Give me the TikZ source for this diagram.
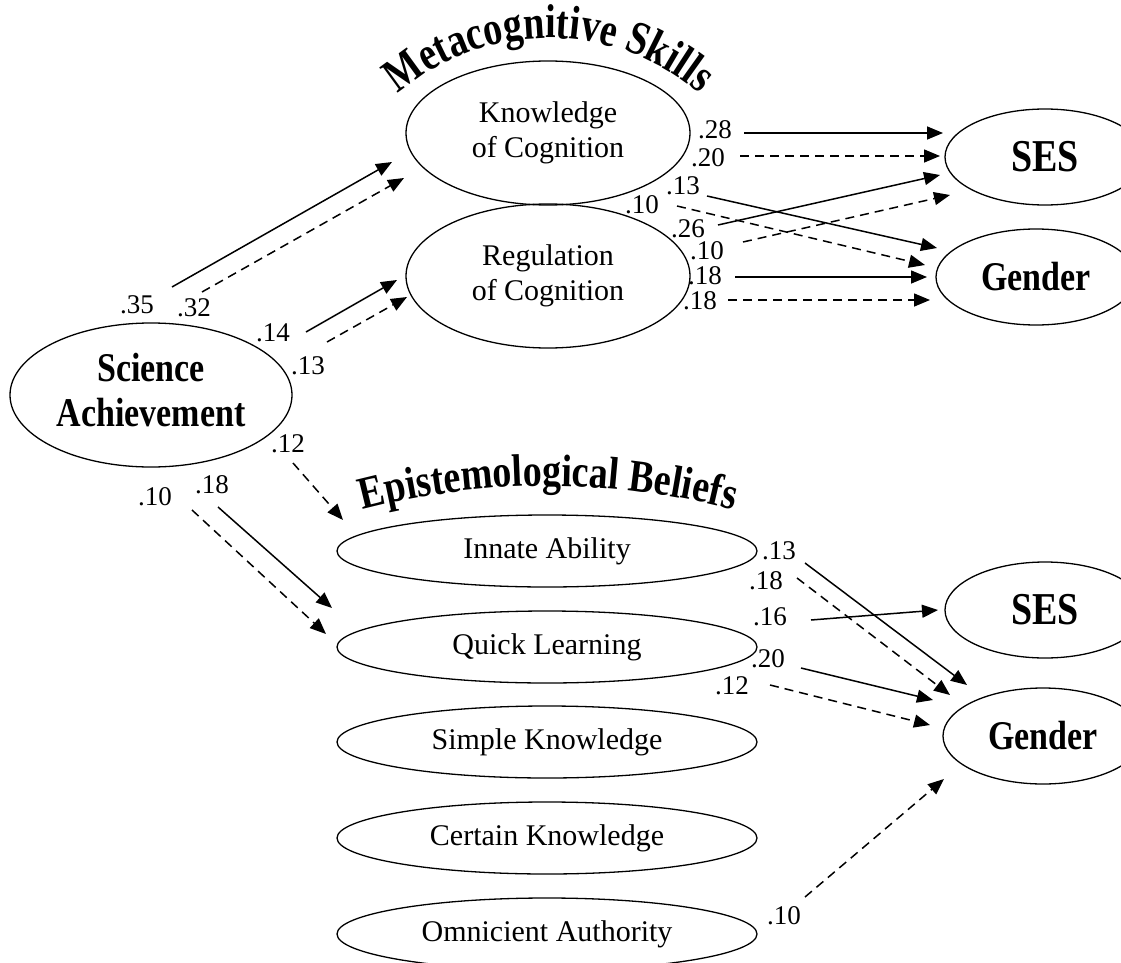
\documentclass[tikz,border=0pt]{standalone}
\usepackage{fontspec}
\usepackage{graphicx}
\setmainfont{Liberation Serif}
\usetikzlibrary{shapes.geometric,arrows.meta,decorations.text}
\newcommand{\tallb}[1]{\scalebox{1}[1.2]{#1}}
\begin{document}
\begin{tikzpicture}[x=1pt,y=1pt,
  ell/.style={ellipse,draw,line width=1.3pt,inner sep=0pt,align=center},
  conn/.style={line width=1.5pt,-{Triangle[length=16pt,width=13pt]}},
  dsh/.style={conn,dash pattern=on 9pt off 6pt},
  lab/.style={inner sep=0pt,font=\fontsize{27}{27}\selectfont},
  reg/.style={font=\fontsize{30}{35}\selectfont},
  bld/.style={font=\bfseries\fontsize{34}{37}\selectfont},
  big/.style={font=\bfseries\fontsize{38}{40}\selectfont}]
\useasboundingbox (0,0) rectangle (1121,-963);
\clip (0,0) rectangle (1121,-963);

% titles
\path[decorate,decoration={text along path,text align=center,transform={yscale=1.25},
  text={|\bfseries\fontsize{38}{40}\selectfont|Metacognitive Skills}}]
  (549,-270) ++(140:232) arc[start angle=140,end angle=40,radius=232];
\path[decorate,decoration={text along path,text align=center,transform={yscale=1.2},
  text={|\bfseries\fontsize{38}{40}\selectfont|Epistemological Beliefs}}]
  (548,-1219) ++(106:733) arc[start angle=106,end angle=74,radius=733];

% nodes
\node[ell,minimum width=284,minimum height=144,reg] (koc) at (548,-133) {Knowledge\\of Cognition};
\node[ell,minimum width=284,minimum height=144,reg] (roc) at (548,-276) {Regulation\\of Cognition};
\node[ell,minimum width=282,minimum height=144,bld] (sci) at (151,-395)
  {\tallb{\begin{tabular}{@{}c@{}}Science\\Achievement\end{tabular}}};
\node[ell,minimum width=200,minimum height=96,big] (ses1) at (1045,-157) {\tallb{SES}};
\node[ell,minimum width=200,minimum height=96,bld] (gen1) at (1036,-277) {\tallb{Gender}};
\node[ell,minimum width=200,minimum height=96,big] (ses2) at (1045,-610) {\tallb{SES}};
\node[ell,minimum width=200,minimum height=96,bld] (gen2) at (1043,-736) {\tallb{Gender}};
\node[ell,minimum width=420,minimum height=72,reg] (ia) at (547,-551) {Innate Ability};
\node[ell,minimum width=420,minimum height=72,reg] (ql) at (547,-647) {Quick Learning};
\node[ell,minimum width=420,minimum height=72,reg] (sk) at (547,-742) {Simple Knowledge};
\node[ell,minimum width=420,minimum height=72,reg] (ck) at (547,-838) {Certain Knowledge};
\node[ell,minimum width=420,minimum height=72,reg] (oa) at (547,-934) {Omnicient Authority};

% connector end points
\coordinate (a1s) at (172,-287); \coordinate (a1e) at (392,-162);
\coordinate (a2s) at (202,-292); \coordinate (a2e) at (404,-178);
\coordinate (a3s) at (306,-332); \coordinate (a3e) at (397,-280);
\coordinate (a4s) at (327,-342); \coordinate (a4e) at (407,-297);
\coordinate (a5s) at (293,-463); \coordinate (a5e) at (343,-520);
\coordinate (a6s) at (218,-507); \coordinate (a6e) at (332,-608);
\coordinate (a7s) at (192,-510); \coordinate (a7e) at (326,-634);
\coordinate (b1s) at (744,-133); \coordinate (b1e) at (943,-133);
\coordinate (b2s) at (740,-156); \coordinate (b2e) at (940,-156);
\coordinate (b3s) at (707,-196); \coordinate (b3e) at (937,-248);
\coordinate (b4s) at (677,-206); \coordinate (b4e) at (925,-265);
\coordinate (b5s) at (718,-225); \coordinate (b5e) at (940,-175);
\coordinate (b6s) at (743,-242); \coordinate (b6e) at (950,-195);
\coordinate (b7s) at (735,-277); \coordinate (b7e) at (927,-277);
\coordinate (b8s) at (728,-300); \coordinate (b8e) at (930,-300);
\coordinate (c1s) at (805,-563); \coordinate (c1e) at (967,-685);
\coordinate (c2s) at (797,-578); \coordinate (c2e) at (950,-695);
\coordinate (c3s) at (811,-620); \coordinate (c3e) at (938,-610);
\coordinate (c4s) at (801,-668); \coordinate (c4e) at (933,-700);
\coordinate (c5s) at (770,-685); \coordinate (c5e) at (930,-725);
\coordinate (c6s) at (805,-897); \coordinate (c6e) at (944,-779);

% connectors
\draw[conn] (a1s) -- (a1e);
\draw[dsh] (a2s) -- (a2e);
\draw[conn] (a3s) -- (a3e);
\draw[dsh] (a4s) -- (a4e);
\draw[dsh] (a5s) -- (a5e);
\draw[conn] (a6s) -- (a6e);
\draw[dsh] (a7s) -- (a7e);
\draw[conn] (b1s) -- (b1e);
\draw[dsh] (b2s) -- (b2e);
\draw[conn] (b3s) -- (b3e);
\draw[dsh] (b4s) -- (b4e);
\draw[conn] (b5s) -- (b5e);
\draw[dsh] (b6s) -- (b6e);
\draw[conn] (b7s) -- (b7e);
\draw[dsh] (b8s) -- (b8e);
\draw[conn] (c1s) -- (c1e);
\draw[dsh] (c2s) -- (c2e);
\draw[conn] (c3s) -- (c3e);
\draw[conn] (c4s) -- (c4e);
\draw[dsh] (c5s) -- (c5e);
\draw[dsh] (c6s) -- (c6e);

% labels
\node[lab] (l1) at (137,-305) {.35};
\node[lab] (l2) at (194,-308) {.32};
\node[lab] (l3) at (273,-333) {.14};
\node[lab] (l4) at (308,-366) {.13};
\node[lab] (l5) at (288,-444) {.12};
\node[lab] (l6) at (155,-497) {.10};
\node[lab] (l7) at (212,-485) {.18};
\node[lab] (l8) at (715,-130) {.28};
\node[lab] (l9) at (708,-158) {.20};
\node[lab] (l10) at (683,-186) {.13};
\node[lab] (l11) at (642,-205) {.10};
\node[lab] (l12) at (688,-229) {.26};
\node[lab] (l13) at (707,-251) {.10};
\node[lab] (l14) at (705,-276) {.18};
\node[lab] (l15) at (700,-301) {.18};
\node[lab] (l16) at (779,-551) {.13};
\node[lab] (l17) at (766,-581) {.18};
\node[lab] (l18) at (770,-617) {.16};
\node[lab] (l19) at (768,-659) {.20};
\node[lab] (l20) at (732,-686) {.12};
\node[lab] (l21) at (784,-916) {.10};
\end{tikzpicture}
\end{document}
